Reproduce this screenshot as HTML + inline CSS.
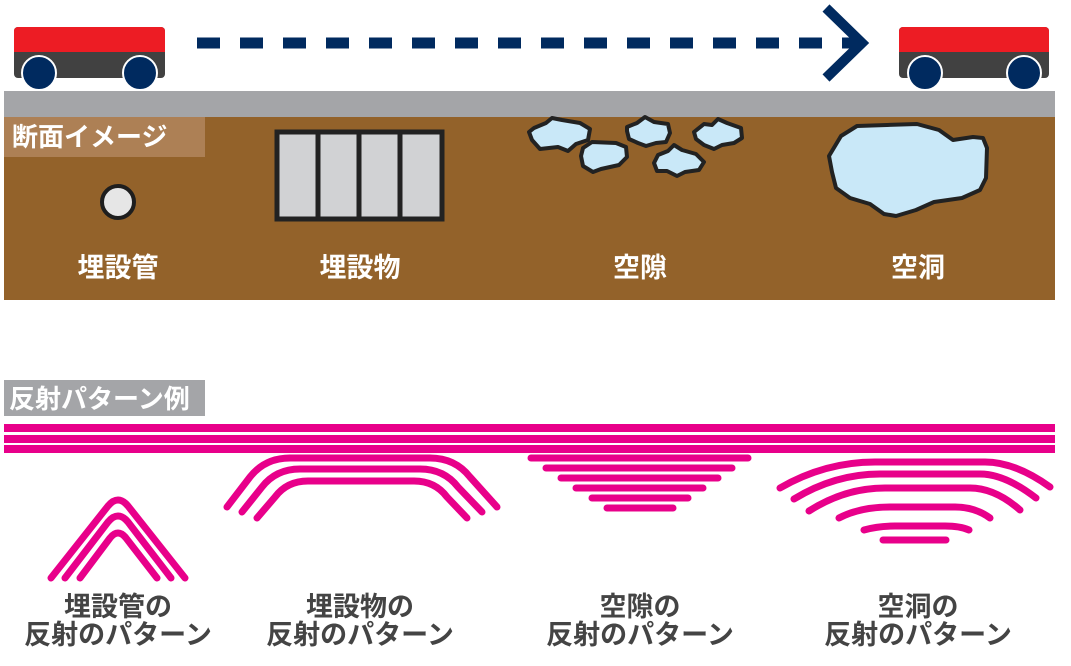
<!DOCTYPE html>
<html><head><meta charset="utf-8"><style>
html,body{margin:0;padding:0;background:#fff;}
svg{display:block;}
text{font-family:"Liberation Sans","Noto Sans CJK JP",sans-serif;font-weight:bold;}
</style></head><body>
<svg width="1071" height="666" viewBox="0 0 1071 666" xmlns="http://www.w3.org/2000/svg">
<!-- cars -->
<g>
<rect x="14" y="27" width="151" height="51" rx="4" fill="#414141"/>
<path d="M14 52 V31 a4 4 0 0 1 4-4 H161 a4 4 0 0 1 4 4 V52 Z" fill="#ed1c24"/>
<circle cx="39" cy="73" r="17" fill="#002a5f" stroke="#fff" stroke-width="2"/>
<circle cx="140" cy="73" r="17" fill="#002a5f" stroke="#fff" stroke-width="2"/>
</g>
<g>
<rect x="899" y="27" width="150" height="51" rx="4" fill="#414141"/>
<path d="M899 52 V31 a4 4 0 0 1 4-4 H1045 a4 4 0 0 1 4 4 V52 Z" fill="#ed1c24"/>
<circle cx="925" cy="73" r="17" fill="#002a5f" stroke="#fff" stroke-width="2"/>
<circle cx="1024" cy="73" r="17" fill="#002a5f" stroke="#fff" stroke-width="2"/>
</g>
<line x1="197" y1="43" x2="860" y2="43" stroke="#002a5f" stroke-width="11" stroke-dasharray="23 20"/>
<polyline points="826,8 862,43 826,78" fill="none" stroke="#002a5f" stroke-width="10"/>
<!-- ground -->
<rect x="4" y="91" width="1051" height="26" fill="#a4a5a8"/>
<rect x="4" y="117" width="1051" height="183" fill="#93622a"/>
<rect x="4" y="117" width="201" height="40" fill="#ad8055"/>
<text x="12" y="146" font-size="26" fill="#fff">断面イメージ</text>
<circle cx="118" cy="202" r="16" fill="#e6e6e6" stroke="#1e1e1e" stroke-width="4"/>
<rect x="277" y="132" width="165" height="87" fill="#d1d2d4" stroke="#222" stroke-width="5"/>
<line x1="318" y1="132" x2="318" y2="219" stroke="#222" stroke-width="5"/>
<line x1="359" y1="132" x2="359" y2="219" stroke="#222" stroke-width="5"/>
<line x1="400" y1="132" x2="400" y2="219" stroke="#222" stroke-width="5"/>
<g fill="#c9e8f8" stroke="#222" stroke-width="4" stroke-linejoin="round">
<path d="M534 128 l12-5 6-5 10 2 18 3 10 6 -2 11 -12 4 -8 7 -10-4 -18 2 -8-9 -3-8z"/>
<path d="M583 148 l9-6 24 1 10 4 1 10 -8 8 -18 4 -8 3 -10-6 -2-10z"/>
<path d="M627 127 l10-4 8-6 9 5 14 2 2 9 -4 9 -10 1 -10 3 -8-3 -9-4 -2-8z"/>
<path d="M658 155 l10-4 6-6 8 5 14 4 8 8 -5 8 -14 2 -8 4 -10-5 -10 0 -3-8z"/>
<path d="M694 132 l10-8 8 1 6-6 9 4 14 5 1 10 -8 5 -12 2 -8 4 -10-4 -8-6z"/>
<path d="M829 156 l12-20 16-10 30-1 30-1 22 6 14 10 20-3 10 1 4 10 -1 30 -6 12 -18 8 -28 4 -18 8 -20 6 -12-2 -14-10 -20-6 -14-10 -4-16z"/>
</g>
<g font-size="27" fill="#fff" text-anchor="middle">
<text x="118" y="277">埋設管</text>
<text x="360" y="277">埋設物</text>
<text x="640" y="277">空隙</text>
<text x="918" y="277">空洞</text>
</g>
<!-- pattern -->
<rect x="4" y="380" width="201" height="36" fill="#a4a5a8"/>
<text x="9" y="408" font-size="26" fill="#fff">反射パターン例</text>
<g fill="#e8008a">
<rect x="4" y="424" width="1051" height="8"/>
<rect x="4" y="435" width="1051" height="8"/>
<rect x="4" y="445" width="1051" height="8"/>
</g>
<g fill="none" stroke="#e8008a" stroke-width="7" stroke-linecap="round" stroke-linejoin="round">
<path d="M51 578 L108 506 Q118 494 128 506 L185 578"/>
<path d="M65 578 L108 522 Q118 510 128 522 L171 578"/>
<path d="M80 578 L110 538 Q118 528 126 538 L157 578"/>
<path d="M227 507 L250 477 Q265 458 290 458 L430 458 Q455 458 470 477 L497 507"/>
<path d="M242 512 L262 487 Q276 469 300 469 L420 469 Q444 469 458 487 L482 512"/>
<path d="M257 518 L275 497 Q287 481 308 481 L414 481 Q435 481 447 497 L467 518"/>
<path d="M780 488 Q825 462 875 462 L985 462 Q1015 462 1050 487"/>
<path d="M794 499 Q835 474 880 474 L980 474 Q1005 474 1036 498"/>
<path d="M809 511 Q845 488 885 488 L970 488 Q995 488 1020 510"/>
<path d="M839 518 Q860 507 890 507 L955 507 Q975 507 990 518"/>
<path d="M864 530 Q878 526 895 526 L945 526 Q960 526 969 530"/>
<path d="M883 540 L946 540"/>
<path d="M531 458 L748 458"/><path d="M546 468 L732 468"/><path d="M561 478 L718 478"/>
<path d="M576 488 L703 488"/><path d="M592 498 L688 498"/><path d="M607 508 L673 508"/>
</g>
<g font-size="27" fill="#444" text-anchor="middle">
<text x="118" y="616">埋設管の</text><text x="118" y="644">反射のパターン</text>
<text x="360" y="616">埋設物の</text><text x="360" y="644">反射のパターン</text>
<text x="640" y="616">空隙の</text><text x="640" y="644">反射のパターン</text>
<text x="918" y="616">空洞の</text><text x="918" y="644">反射のパターン</text>
</g>
</svg>
</body></html>
